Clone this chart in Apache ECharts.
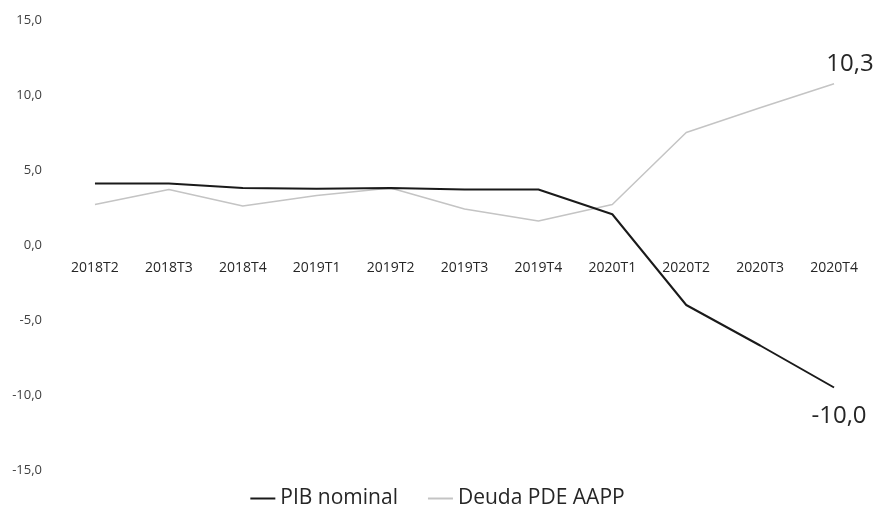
<!DOCTYPE html>
<html><head><meta charset="utf-8">
<script src="https://cdn.jsdelivr.net/npm/echarts@6/dist/echarts.min.js"></script>
<style>html,body{margin:0;padding:0;background:#fff}#c{width:875px;height:508px}</style>
</head><body><div id="c"></div>
<script>
var categories = ['2018T2','2018T3','2018T4','2019T1','2019T2','2019T3','2019T4','2020T1','2020T2','2020T3','2020T4'];
var pibNominal = [4.1, 4.1, 3.8, 3.75, 3.8, 3.7, 3.7, 2.05, -4.0, -6.7, -9.5];
var deudaPDE = [2.7, 3.7, 2.6, 3.3, 3.8, 2.4, 1.6, 2.7, 7.5, 9.15, 10.75];
var seriesNames = ['PIB nominal', 'Deuda PDE AAPP'];
var endLabels = ['-10,0', '10,3'];
var yTicks = {min: -15, max: 15, interval: 5};

function withEndLabel(arr, text, pos, offset) {
  return arr.map(function (v, i) {
    if (i !== arr.length - 1) return v;
    return {value: v, label: {show: true, position: pos, offset: offset, formatter: text,
      fontSize: 24, color: '#262626', fontFamily: 'Open Sans'}};
  });
}

var chart = echarts.init(document.getElementById('c'));
chart.setOption({
  animation: false,
  backgroundColor: '#fff',
  grid: {left: 58, right: 4, top: 20, bottom: 38},
  legend: {
    bottom: -6, left: 'center', itemWidth: 25, itemHeight: 2, itemGap: 30,
    icon: 'rect',
    textStyle: {fontSize: 21, color: '#262626', fontFamily: 'Open Sans'},
    data: seriesNames
  },
  xAxis: {
    type: 'category', data: categories, boundaryGap: true,
    position: 'bottom', offset: -225,
    axisLine: {show: false},
    axisTick: {show: false},
    axisLabel: {margin: 16, fontSize: 14, color: '#262626', fontFamily: 'Open Sans'}
  },
  yAxis: {
    type: 'value', min: yTicks.min, max: yTicks.max, interval: yTicks.interval,
    splitLine: {show: false}, axisLine: {show: false}, axisTick: {show: false},
    axisLabel: {margin: 16, fontSize: 13, color: '#404040', fontFamily: 'Open Sans',
      formatter: function (v) { return v.toFixed(1).replace('.', ','); }}
  },
  series: [
    {name: seriesNames[0], type: 'line', symbol: 'circle', symbolSize: 0, showSymbol: true, z: 3,
     lineStyle: {color: '#1a1a1a', width: 2}, itemStyle: {color: '#1a1a1a'},
     data: withEndLabel(pibNominal, endLabels[0], 'bottom', [5, 12])},
    {name: seriesNames[1], type: 'line', symbol: 'circle', symbolSize: 0, showSymbol: true, z: 2,
     lineStyle: {color: '#c4c4c4', width: 1.5}, itemStyle: {color: '#c4c4c4'},
     data: withEndLabel(deudaPDE, endLabels[1], 'top', [16, -3])}
  ]
});
</script></body></html>
